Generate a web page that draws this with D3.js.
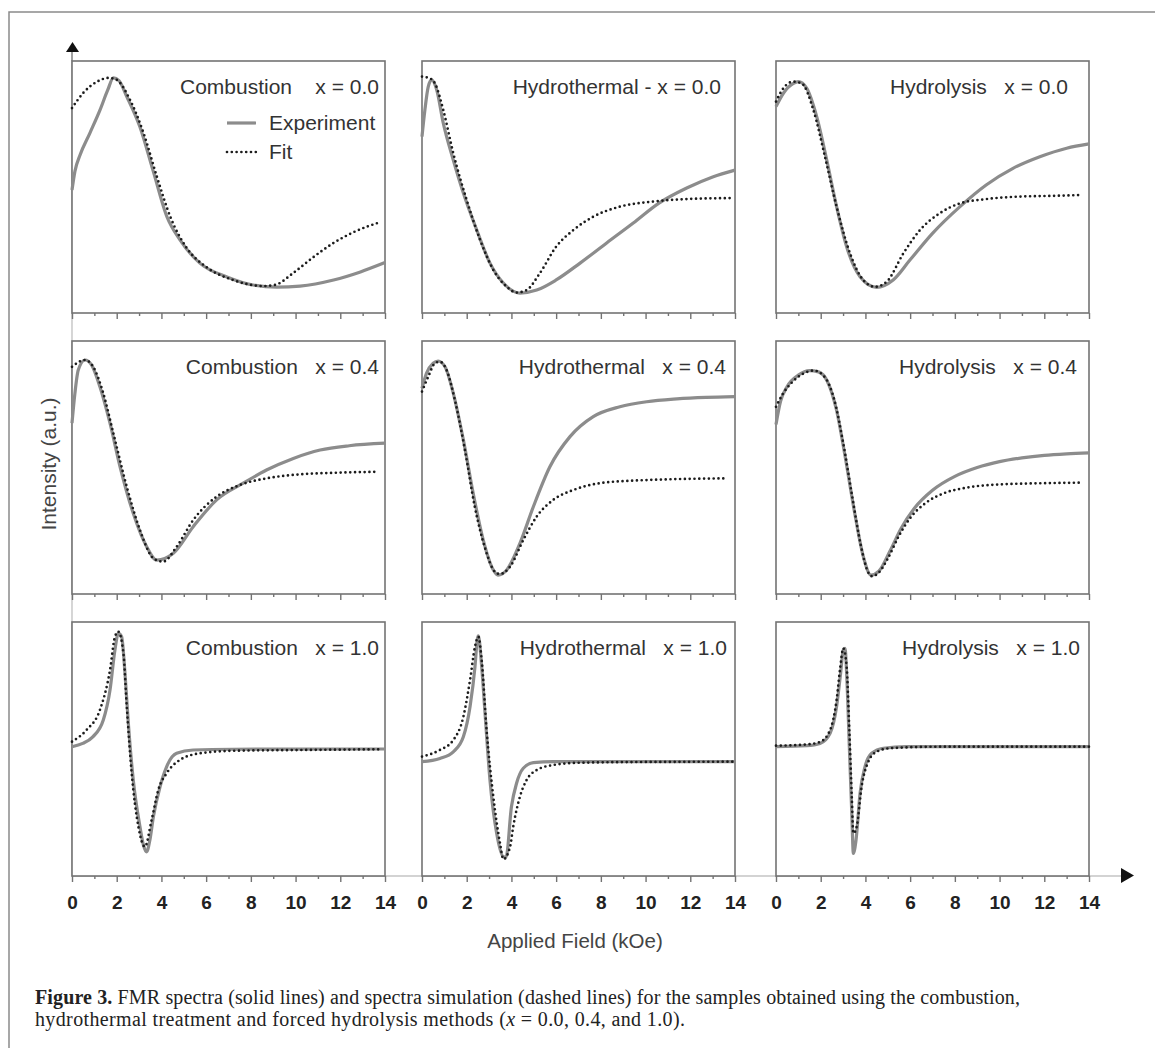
<!DOCTYPE html>
<html>
<head>
<meta charset="utf-8">
<script src="https://cdn.jsdelivr.net/npm/d3@7"></script>
<style>
  body { margin: 0; background: #fff; }
  svg { display: block; }
  text { font-family: "Liberation Sans", Arial, sans-serif; }
</style>
</head>
<body>
<svg id="chart" width="1155" height="1048"></svg>
<script>
// ---- data: field (kOe) vs. normalised intensity (0 = panel bottom, 100 = panel top) ----
const xTicks = d3.range(0, 15);
const seriesNames = ["Experiment", "Fit"];
const panelTitles = [
  "Combustion    x = 0.0", "Hydrothermal - x = 0.0", "Hydrolysis   x = 0.0",
  "Combustion   x = 0.4", "Hydrothermal   x = 0.4", "Hydrolysis   x = 0.4",
  "Combustion   x = 1.0", "Hydrothermal   x = 1.0", "Hydrolysis   x = 1.0"
];

const comb00Exp = [[0,48.8],[0.13,56.2],[0.36,62.7],[0.8,71.4],[1.25,80.5],[1.6,88.5],[1.85,93.3],[2.1,92.2],[2.46,85.7],[3.04,73.8],[3.62,56.7],[4.25,38.1],[4.83,29],[5.72,19.8],[6.93,14.3],[8.1,11.1],[9.16,10.3],[10.2,10.7],[11.7,13.1],[12.9,16.3],[14,20]];
const comb00Fit = [[0,81.3],[0.5,87.3],[1.1,91.7],[1.65,93.3],[2.0,92.5],[2.6,84.5],[3.2,71.4],[3.8,54],[4.4,38.1],[5.1,26.2],[6.0,18.3],[7.2,13.1],[8.55,10.7],[9.1,11.2],[9.9,15.9],[10.8,22.2],[11.7,27.8],[12.6,32.1],[13.8,36.1]];

const hydro00Exp = [[0,70],[0.13,80.6],[0.28,89.8],[0.43,92.5],[0.66,88.5],[0.95,75.4],[1.4,60.7],[1.85,47.6],[2.45,32.9],[3.04,19.8],[3.64,11.9],[4.38,7.9],[5.13,9.1],[6.0,13.1],[7.07,19.8],[8.26,27.8],[9.45,35.7],[10.6,43.6],[11.84,49.6],[13.0,54],[14,56.7]];
const hydro00Fit = [[0,93.8],[0.36,93.1],[0.58,91.1],[0.95,80.6],[1.4,63.4],[2.0,44.8],[2.6,29],[3.19,17.1],[3.79,10.4],[4.23,8.1],[4.68,9.1],[5.28,15.9],[6.0,26.3],[6.77,32.9],[7.66,38.2],[8.85,42.2],[10.3,44.2],[11.8,45.2],[13.8,45.6]];

const hydrol00Exp = [[0,81.9],[0.33,87.2],[0.78,91.1],[1.0,91.8],[1.37,89.2],[1.82,77.9],[2.27,60.7],[2.71,42.2],[3.16,26.3],[3.76,14.4],[4.5,10.2],[5.24,13.1],[5.99,21],[7.0,31.6],[8.23,42.2],[9.4,50.8],[10.6,57.4],[11.8,62],[13.0,65.4],[14,67.1]];
const hydrol00Fit = [[0,83.9],[0.33,89.2],[0.78,91.8],[1.15,91.1],[1.67,80.6],[2.19,62],[2.71,42.2],[3.31,23.7],[3.9,13.1],[4.43,10.4],[4.95,12.4],[5.7,23.7],[6.44,32.9],[7.33,39.6],[8.23,43.5],[9.4,45.2],[10.9,46.2],[12.4,46.5],[13.6,46.8]];

const comb04Exp = [[0,67.5],[0.13,79.3],[0.28,88.5],[0.58,92.5],[0.88,90.5],[1.25,81.9],[1.7,67.5],[2.15,50.3],[2.74,31.9],[3.34,18.7],[3.79,13.4],[4.53,16.1],[5.42,26.6],[6.47,37.2],[7.66,43.8],[8.7,49],[9.9,53.6],[11.1,56.9],[12.4,58.6],[14,59.6]];
const comb04Fit = [[0,89.8],[0.58,92.5],[0.95,89.8],[1.4,79.3],[1.85,63.5],[2.45,42.4],[3.04,25.3],[3.64,14.1],[4.08,12.8],[4.68,18.7],[5.42,29.2],[6.47,38.5],[7.51,43.1],[8.7,45.7],[10.2,47.3],[11.7,47.9],[13.7,48.3]];

const hydro04Exp = [[0,81.3],[0.2,87.2],[0.5,91.2],[0.72,92.1],[1.03,89.8],[1.4,79.3],[1.85,60.9],[2.29,39.8],[2.74,21.3],[3.19,9.5],[3.4,7.5],[3.79,9.5],[4.38,20],[4.98,34.5],[5.72,50.3],[6.62,62.2],[7.66,70.1],[8.85,74],[10.05,76],[11.4,77.1],[12.7,77.7],[14,78]];
const hydro04Fit = [[0,80],[0.28,85.9],[0.58,91.2],[0.8,91.8],[1.1,88.5],[1.47,76.7],[1.92,56.9],[2.36,34.5],[2.8,18.7],[3.26,8.8],[3.49,7.9],[3.94,10.8],[4.53,21.3],[5.13,30.6],[5.87,37.2],[6.77,41.1],[7.96,43.8],[9.45,44.8],[10.9,45.3],[13.6,45.7]];

const hydrol04Exp = [[0,67],[0.2,76],[0.5,82],[1.0,86.5],[1.5,88.3],[1.9,87.8],[2.3,84],[2.7,73],[3.1,54],[3.5,33],[3.9,15],[4.25,7.5],[4.6,9],[5.1,17],[5.6,26],[6.2,34],[7.0,41],[8.0,46.5],[9.0,50],[10,52.3],[11,53.8],[12,54.8],[13,55.4],[14,55.8]];
const hydrol04Fit = [[0,74],[0.3,79],[0.7,83.5],[1.2,87],[1.7,88.3],[2.2,85.5],[2.6,77],[3.0,60],[3.4,39],[3.8,19],[4.1,9],[4.3,7],[4.6,8.5],[5.0,14],[5.5,23],[6.0,30],[6.7,36],[7.5,39.8],[8.5,42],[10,43.3],[12,43.8],[13.6,44]];

const comb10Exp = [[0,50.9],[0.48,52.2],[0.93,54.8],[1.4,61.4],[1.7,73.2],[1.92,89],[2.07,95.5],[2.22,94.2],[2.37,79.8],[2.52,60.1],[2.74,37.8],[3.04,19.4],[3.2,12],[3.34,9.5],[3.48,14],[3.64,23.3],[3.94,35.2],[4.23,43],[4.68,48.3],[5.42,49.6],[7.2,49.9],[14,50]];
const comb10Fit = [[0,52.9],[0.65,57.5],[1.25,65.4],[1.7,81.1],[1.92,94.2],[2.07,96.2],[2.3,87.7],[2.45,66.7],[2.67,40.4],[2.97,19.4],[3.26,11.5],[3.56,22],[3.86,33.9],[4.23,40.4],[4.83,45.7],[5.72,48.3],[7.2,49.3],[10.2,49.6],[13.9,49.9]];

const hydro10Exp = [[0,45],[0.8,46.3],[1.4,48.9],[1.85,54.8],[2.15,66.7],[2.37,82.4],[2.47,92.9],[2.52,94.5],[2.67,82.4],[2.82,64],[3.04,37.8],[3.34,16.8],[3.64,7.6],[3.76,7.4],[4.0,27.3],[4.23,36.5],[4.53,42.4],[4.98,44.6],[5.87,45],[14,45]];
const hydro10Fit = [[0,47],[0.8,49.6],[1.4,53.5],[1.85,62.7],[2.15,77.2],[2.37,90.3],[2.52,94.2],[2.67,85],[2.89,57.5],[3.19,31.2],[3.49,12.9],[3.64,6.6],[3.94,11.5],[4.08,19.4],[4.38,31.2],[4.68,37.8],[5.13,41.7],[5.87,43.7],[7.07,44.6],[10,44.9],[14,45]];

const hydrol10Exp = [[0,50.9],[1.37,51.3],[1.97,52.2],[2.42,56.2],[2.71,66.7],[2.89,79.8],[3.01,89],[3.09,89.6],[3.16,79.8],[3.28,50.9],[3.39,24.7],[3.46,8.9],[3.58,14.2],[3.76,32.6],[3.98,43],[4.28,48.3],[4.8,50.3],[5.84,50.9],[14,50.9]];
const hydrol10Fit = [[0,51.3],[1.37,51.8],[1.97,52.8],[2.42,57.5],[2.71,69.3],[2.86,81.1],[3.01,89.6],[3.16,82.4],[3.28,57.5],[3.39,31.2],[3.46,16.8],[3.61,19.4],[3.83,35.2],[4.13,45],[4.5,48.9],[5.1,50.3],[7.33,50.9],[14,50.9]];

const experimentSeries = [comb00Exp, hydro00Exp, hydrol00Exp, comb04Exp, hydro04Exp, hydrol04Exp, comb10Exp, hydro10Exp, hydrol10Exp];
const fitSeries = [comb00Fit, hydro00Fit, hydrol00Fit, comb04Fit, hydro04Fit, hydrol04Fit, comb10Fit, hydro10Fit, hydrol10Fit];

// ---- layout ----
const colX = [72, 422, 776];
const rowY = [61, 341, 622];
const panelW = 313;
const panelH = [252, 253, 254];
const titlePad = [6, 14, 21, 6, 9, 12, 6, 8, 9];
const frameColor = "#737373";
const expColor = "#8c8c8c";
const fitColor = "#1c1c1c";

const svg = d3.select("#chart");

// outer figure border
svg.append("path")
  .attr("d", "M9,1050 V12 H1160")
  .attr("fill", "none")
  .attr("stroke", "#8a8a8a")
  .attr("stroke-width", 1.5);

// long axis lines running behind the panels
const axisBottomY = rowY[2] + panelH[2];
svg.append("line")
  .attr("x1", colX[0]).attr("x2", colX[0])
  .attr("y1", 52).attr("y2", axisBottomY)
  .attr("stroke", "#c4c4c4").attr("stroke-width", 1.4);
svg.append("line")
  .attr("x1", colX[0]).attr("x2", colX[0])
  .attr("y1", 52).attr("y2", rowY[0])
  .attr("stroke", "#8a8a8a").attr("stroke-width", 1.4);
svg.append("line")
  .attr("x1", colX[0]).attr("x2", 1122)
  .attr("y1", axisBottomY).attr("y2", axisBottomY)
  .attr("stroke", "#c4c4c4").attr("stroke-width", 1.4);

// arrow heads
svg.append("path")
  .attr("d", `M66,52 L79,52 L72.5,42 Z`)
  .attr("fill", "#111");
svg.append("path")
  .attr("d", `M1121,${axisBottomY - 8} L1121,${axisBottomY + 7} L1134,${axisBottomY - 0.5} Z`)
  .attr("fill", "#111");

const line = (x, y) => d3.line()
  .x(d => x(d[0]))
  .y(d => y(d[1]))
  .curve(d3.curveMonotoneX);

panelTitles.forEach((title, i) => {
  const r = Math.floor(i / 3), c = i % 3;
  const left = colX[c], top = rowY[r], h = panelH[r];
  const x = d3.scaleLinear().domain([0, 14]).range([left, left + panelW]);
  const y = d3.scaleLinear().domain([0, 100]).range([top + h, top]);
  const g = svg.append("g").attr("class", "panel");

  g.append("rect")
    .attr("x", left).attr("y", top)
    .attr("width", panelW).attr("height", h)
    .attr("fill", "#fff")
    .attr("stroke", frameColor)
    .attr("stroke-width", 1.6);

  const axis = d3.axisBottom(x)
    .tickValues(xTicks)
    .tickSize(6)
    .tickSizeOuter(0)
    .tickFormat(d => (r === 2 && d % 2 === 0) ? d : "");

  const ax = g.append("g")
    .attr("transform", `translate(0,${top + h})`)
    .call(axis);
  ax.select(".domain").remove();
  ax.selectAll(".tick line")
    .attr("stroke", frameColor)
    .attr("stroke-width", 1.4)
    .attr("y2", d => d % 2 ? 3 : 6);
  ax.selectAll(".tick text")
    .attr("y", 33)
    .attr("dy", 0)
    .attr("fill", "#222")
    .style("font-family", '"Liberation Sans", Arial, sans-serif')
    .style("font-size", "19px")
    .style("font-weight", "bold");

  g.append("path")
    .datum(experimentSeries[i])
    .attr("d", line(x, y))
    .attr("fill", "none")
    .attr("stroke", expColor)
    .attr("stroke-width", 3.2)
    .attr("stroke-linejoin", "round");

  g.append("path")
    .datum(fitSeries[i])
    .attr("d", line(x, y))
    .attr("fill", "none")
    .attr("stroke", fitColor)
    .attr("stroke-width", 2.7)
    .attr("stroke-linecap", "round")
    .attr("stroke-dasharray", "0 4.8");

  g.append("text")
    .attr("x", left + panelW - titlePad[i])
    .attr("y", top + 33)
    .attr("text-anchor", "end")
    .attr("xml:space", "preserve")
    .style("white-space", "pre")
    .style("font-size", "21px")
    .attr("fill", "#333")
    .text(title);

  // legend, first panel only
  if (i === 0) {
    const lg = g.append("g");
    const items = [
      { name: seriesNames[0], y: 123, color: expColor, w: 3.2, dash: null, cap: "butt" },
      { name: seriesNames[1], y: 152, color: fitColor, w: 2.7, dash: "0 4.8", cap: "round" }
    ];
    items.forEach(it => {
      lg.append("line")
        .attr("x1", 227).attr("x2", 256)
        .attr("y1", it.y).attr("y2", it.y)
        .attr("stroke", it.color)
        .attr("stroke-width", it.w)
        .attr("stroke-linecap", it.cap)
        .attr("stroke-dasharray", it.dash);
      lg.append("text")
        .attr("x", 269)
        .attr("y", it.y + 7)
        .style("font-size", "21px")
        .attr("fill", "#333")
        .text(it.name);
    });
  }
});

// axis titles
svg.append("text")
  .attr("transform", `translate(56,464) rotate(-90)`)
  .attr("text-anchor", "middle")
  .style("font-size", "21px")
  .attr("fill", "#444")
  .text("Intensity (a.u.)");

svg.append("text")
  .attr("x", 575)
  .attr("y", 948)
  .attr("text-anchor", "middle")
  .style("font-size", "20.5px")
  .attr("fill", "#444")
  .text("Applied Field (kOe)");

// caption
const capFont = '"Liberation Serif", "Times New Roman", serif';
const c1 = svg.append("text").attr("x", 35).attr("y", 1004)
  .attr("textLength", 985).attr("lengthAdjust", "spacing")
  .style("font-family", capFont).style("font-size", "20px").attr("fill", "#222");
c1.append("tspan").style("font-weight", "bold").text("Figure 3.");
c1.append("tspan").text(" FMR spectra (solid lines) and spectra simulation (dashed lines) for the samples obtained using the combustion,");
const c2 = svg.append("text").attr("x", 35).attr("y", 1026)
  .attr("textLength", 650).attr("lengthAdjust", "spacing")
  .style("font-family", capFont).style("font-size", "20px").attr("fill", "#222");
c2.append("tspan").text("hydrothermal treatment and forced hydrolysis methods (");
c2.append("tspan").style("font-style", "italic").text("x");
c2.append("tspan").text(" = 0.0, 0.4, and 1.0).");
</script>
</body>
</html>
